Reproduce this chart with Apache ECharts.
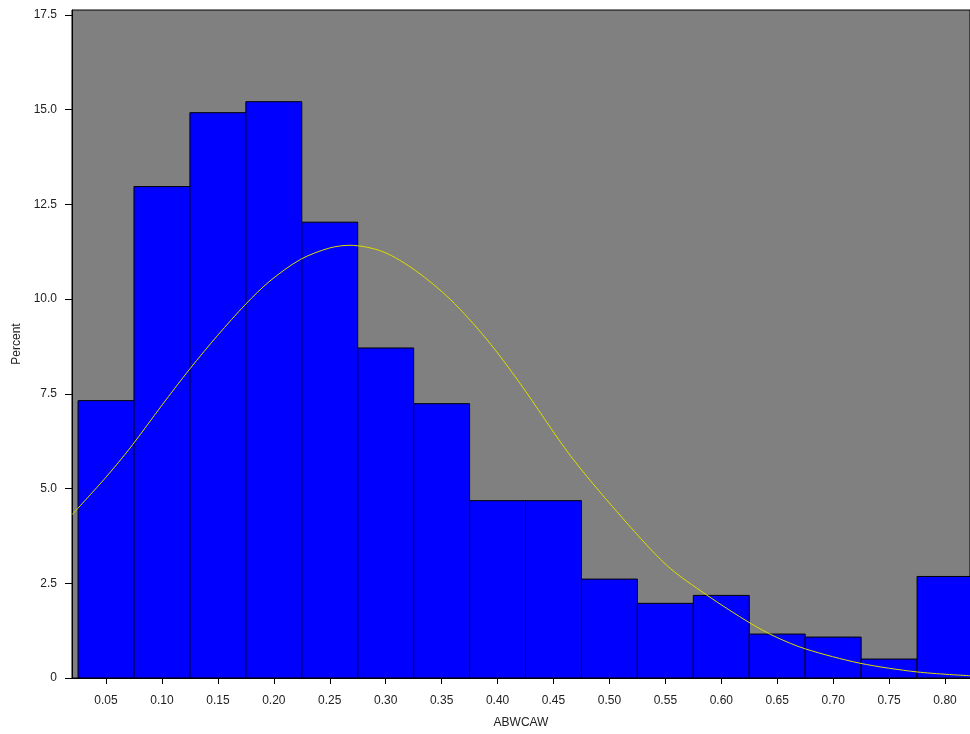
<!DOCTYPE html>
<html>
<head>
<meta charset="utf-8">
<script src="https://cdn.jsdelivr.net/npm/echarts@6/dist/echarts.min.js"></script>
<style>
html,body{margin:0;padding:0;background:#fff;}
#c{width:970px;height:734px;}
</style>
</head>
<body>
<div id="c"></div>
<script>
// Histogram bins (midpoints) and percent per bin
const binMidpoints = [0.05, 0.10, 0.15, 0.20, 0.25, 0.30, 0.35, 0.40, 0.45, 0.50, 0.55, 0.60, 0.65, 0.70, 0.75, 0.80];
const binPercent   = [7.32, 12.97, 14.92, 15.21, 12.03, 8.71, 7.24, 4.68, 4.68, 2.61, 1.97, 2.18, 1.16, 1.08, 0.50, 2.68];
const binWidth = 0.05;

// Fitted normal curve
const curveX = [0.0196, 0.05, 0.0723, 0.10, 0.125, 0.15, 0.175, 0.1966, 0.224, 0.25, 0.268, 0.2976, 0.3268, 0.3575, 0.39, 0.42, 0.4648, 0.5067, 0.551, 0.587, 0.6257, 0.649, 0.675, 0.724, 0.775, 0.8223];
const curveY = [4.31, 5.30, 6.10, 7.20, 8.16, 9.05, 9.87, 10.48, 11.05, 11.35, 11.42, 11.25, 10.75, 10.00, 8.95, 7.78, 5.88, 4.39, 2.98, 2.19, 1.45, 1.08, 0.77, 0.39, 0.16, 0.06];

// Tick labels
const xTicks = [0.05, 0.10, 0.15, 0.20, 0.25, 0.30, 0.35, 0.40, 0.45, 0.50, 0.55, 0.60, 0.65, 0.70, 0.75, 0.80];
const yTicks = [0, 2.5, 5.0, 7.5, 10.0, 12.5, 15.0, 17.5];

const xTitle = 'ABWCAW';
const yTitle = 'Percent';

const chart = echarts.init(document.getElementById('c'), null, {renderer: 'canvas'});
const font = 'Liberation Sans, Arial, sans-serif';

const barData = binMidpoints.map((m, i) => [m, binPercent[i]]);
const lineData = curveX.map((x, i) => [x, curveY[i]]);

chart.setOption({
  animation: false,
  backgroundColor: '#ffffff',
  grid: {
    left: 72, top: 10, right: 0, bottom: 54,
    show: true, backgroundColor: '#808080', borderColor: '#000', borderWidth: 1
  },
  xAxis: {
    type: 'value', min: 0.0196, max: 0.8223,
    name: xTitle, nameLocation: 'middle', nameGap: 39,
    nameTextStyle: {color: '#222', fontFamily: font, fontSize: 12},
    axisLine: {show: true, onZero: false, lineStyle: {color: '#000', width: 1}},
    axisTick: {show: true, length: 6, customValues: xTicks, lineStyle: {color: '#000'}},
    axisLabel: {customValues: xTicks, margin: 17, color: '#222', fontFamily: font, fontSize: 12,
      formatter: v => Number(v).toFixed(2)},
    splitLine: {show: false}
  },
  yAxis: {
    type: 'value', min: 0, max: 17.63,
    name: yTitle, nameLocation: 'middle', nameGap: 46,
    nameTextStyle: {color: '#222', fontFamily: font, fontSize: 12},
    axisLine: {show: true, lineStyle: {color: '#000', width: 1}},
    axisTick: {show: true, length: 7, customValues: yTicks, lineStyle: {color: '#000'}},
    axisLabel: {customValues: yTicks, margin: 15, color: '#222', fontFamily: font, fontSize: 12,
      formatter: v => (v === 0 ? '0' : Number(v).toFixed(1))},
    splitLine: {show: false}
  },
  series: [
    {
      type: 'custom',
      clip: true,
      data: barData,
      renderItem: function (params, api) {
        const mid = api.value(0), val = api.value(1);
        const p0 = api.coord([mid - binWidth / 2, val]);
        const p1 = api.coord([mid + binWidth / 2, 0]);
        return {
          type: 'rect',
          shape: {x: p0[0], y: p0[1], width: p1[0] - p0[0], height: p1[1] - p0[1]},
          style: {fill: '#0000ff', stroke: '#000', lineWidth: 1}
        };
      },
      encode: {x: 0, y: 1},
      z: 2
    },
    {
      type: 'line',
      data: lineData,
      showSymbol: false,
      smooth: 0.3,
      lineStyle: {color: '#dcdc00', width: 1},
      z: 3
    }
  ]
});
</script>
</body>
</html>
